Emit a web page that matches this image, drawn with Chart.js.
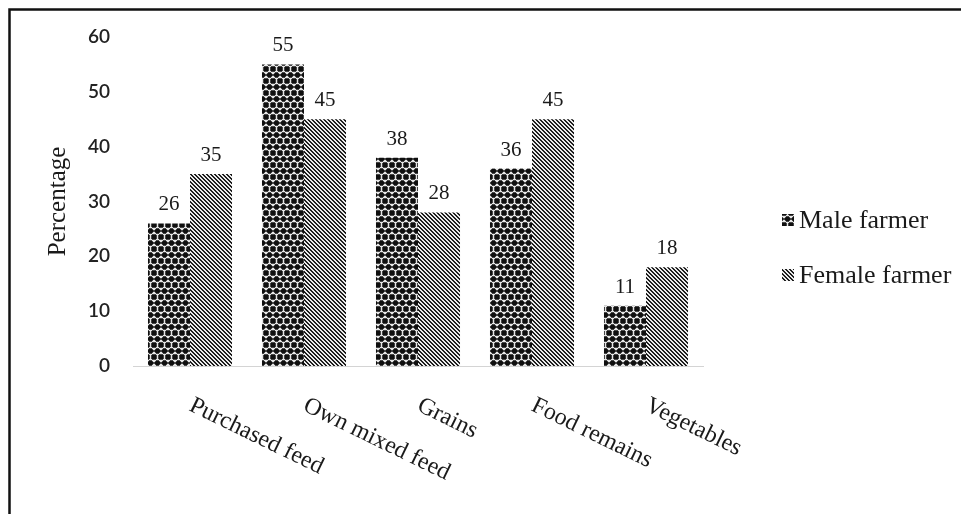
<!DOCTYPE html>
<html>
<head>
<meta charset="utf-8">
<style>
  html, body { margin: 0; padding: 0; background: #fff; }
  #wrap { width: 961px; height: 514px; position: relative; }
</style>
<script src="https://cdn.jsdelivr.net/npm/chart.js@4/dist/chart.umd.min.js"></script>
</head>
<body>
<div id="wrap"><canvas id="c" width="961" height="514"></canvas></div>
<script>
// Feed sources by farmer gender (percentage of respondents)
const categories = ['Purchased feed', 'Own mixed feed', 'Grains', 'Food remains', 'Vegetables'];
const maleFarmer = [26, 55, 38, 36, 11];
const femaleFarmer = [35, 45, 28, 45, 18];
const seriesNames = ['Male farmer', 'Female farmer'];
const yTicks = [0, 10, 20, 30, 40, 50, 60];

const SERIF = '"Liberation Serif", "Times New Roman", serif';
const TEXT = '#1a1a1a';

// Build a repeating fill from a per-pixel rule
function makePattern(w, h, shade) {
  const c = document.createElement('canvas');
  c.width = w; c.height = h;
  const g = c.getContext('2d');
  const img = g.createImageData(w, h);
  for (let y = 0; y < h; y++) {
    for (let x = 0; x < w; x++) {
      const v = shade(x, y);
      const k = (y * w + x) * 4;
      img.data[k] = img.data[k + 1] = img.data[k + 2] = v;
      img.data[k + 3] = 255;
    }
  }
  g.putImageData(img, 0, 0);
  return g.createPattern(c, 'repeat');
}

const ctx0 = document.getElementById('c').getContext('2d');

// Dark balls in offset rows
const ballCentres = [[3.5, 3], [10.5, 3], [0, 9], [7, 9], [14, 9], [3.5, 15], [10.5, 15], [0, -3], [7, -3], [14, -3]];
const dotFill = makePattern(14, 12, (x, y) => {
  const px = x + 0.5, py = y + 0.5;
  let d = 99;
  for (const [cx, cy] of ballCentres) d = Math.min(d, Math.hypot(px - cx, py - cy));
  if (d < 2.5) return 15;
  if (d < 3.2) return 70;
  return 230;
});

// Diagonal hatching running down to the right
const hatchFill = makePattern(4, 4, (x, y) => {
  const m = ((x - y) % 4 + 4) % 4;
  return m < 2 ? 30 : 235;
});

const fills = [dotFill, hatchFill];

// Numbers above each bar, read from the dataset values
const valueLabels = {
  id: 'valueLabels',
  afterDatasetsDraw(chart) {
    const { ctx } = chart;
    ctx.save();
    ctx.font = '21px ' + SERIF;
    ctx.fillStyle = TEXT;
    ctx.textAlign = 'center';
    ctx.textBaseline = 'alphabetic';
    chart.data.datasets.forEach((ds, di) => {
      chart.getDatasetMeta(di).data.forEach((bar, i) => {
        ctx.fillText(String(ds.data[i]), bar.x, bar.y - 13);
      });
    });
    ctx.restore();
  }
};

// Category names slanting down to the right from each group centre
const slantedCategories = {
  id: 'slantedCategories',
  afterDraw(chart) {
    const { ctx } = chart;
    const xs = chart.scales.x;
    const angle = 26 * Math.PI / 180;
    ctx.save();
    ctx.font = '24px ' + SERIF;
    ctx.fillStyle = TEXT;
    ctx.textAlign = 'left';
    ctx.textBaseline = 'alphabetic';
    chart.data.labels.forEach((lab, i) => {
      const x = xs.getPixelForValue(i) - 2;
      const y = chart.chartArea.bottom + 44;
      ctx.save();
      ctx.translate(x, y);
      ctx.rotate(angle);
      ctx.fillText(lab, 0, 0);
      ctx.restore();
    });
    ctx.restore();
  }
};

// Legend beside the plot, with swatches using the bar fills
const sideLegend = {
  id: 'sideLegend',
  afterDraw(chart) {
    const { ctx, chartArea } = chart;
    const left = chartArea.right + 79;
    ctx.save();
    ctx.font = '26px ' + SERIF;
    ctx.textAlign = 'left';
    ctx.textBaseline = 'middle';
    chart.data.datasets.forEach((ds, i) => {
      const cy = 220 + i * 55;
      ctx.fillStyle = ds.backgroundColor;
      ctx.fillRect(left, cy - 6, 12, 12);
      ctx.fillStyle = TEXT;
      ctx.fillText(ds.label, left + 17, cy + 1);
    });
    ctx.restore();
  }
};

// Dark frame along the top and left edges
const frame = {
  id: 'frame',
  beforeDraw(chart) {
    const { ctx, width, height } = chart;
    ctx.save();
    ctx.fillStyle = '#fff';
    ctx.fillRect(0, 0, width, height);
    ctx.strokeStyle = '#111';
    ctx.lineWidth = 2.5;
    ctx.beginPath();
    ctx.moveTo(width, 9.5);
    ctx.lineTo(9.5, 9.5);
    ctx.lineTo(9.5, height);
    ctx.stroke();
    ctx.restore();
  }
};

new Chart(ctx0, {
  type: 'bar',
  data: {
    labels: categories,
    datasets: [
      { label: seriesNames[0], data: maleFarmer, backgroundColor: fills[0], borderWidth: 0 },
      { label: seriesNames[1], data: femaleFarmer, backgroundColor: fills[1], borderWidth: 0 }
    ]
  },
  options: {
    responsive: false,
    animation: false,
    devicePixelRatio: 1,
    layout: { padding: { top: 37, right: 258, bottom: 148, left: 0 } },
    datasets: { bar: { categoryPercentage: 0.737, barPercentage: 1.0 } },
    plugins: {
      legend: { display: false },
      tooltip: { enabled: false },
      title: { display: false }
    },
    scales: {
      x: {
        grid: { display: false, drawTicks: false },
        border: { display: true, color: '#d4d4d4', width: 1 },
        ticks: { display: false }
      },
      y: {
        min: yTicks[0],
        max: yTicks[yTicks.length - 1],
        afterBuildTicks(scale) { scale.ticks = yTicks.map(v => ({ value: v })); },
        afterFit(scale) { scale.width = 133; },
        grid: { display: false, drawTicks: false },
        border: { display: false },
        ticks: {
          padding: 23,
          color: '#222',
          font: { family: 'Lato, "Open Sans", sans-serif', size: 19, weight: '600' }
        },
        title: {
          display: true,
          text: 'Percentage',
          color: TEXT,
          font: { family: SERIF, size: 25 },
          padding: { top: 43, bottom: 0 }
        }
      }
    }
  },
  plugins: [frame, valueLabels, slantedCategories, sideLegend]
});
</script>
</body>
</html>
